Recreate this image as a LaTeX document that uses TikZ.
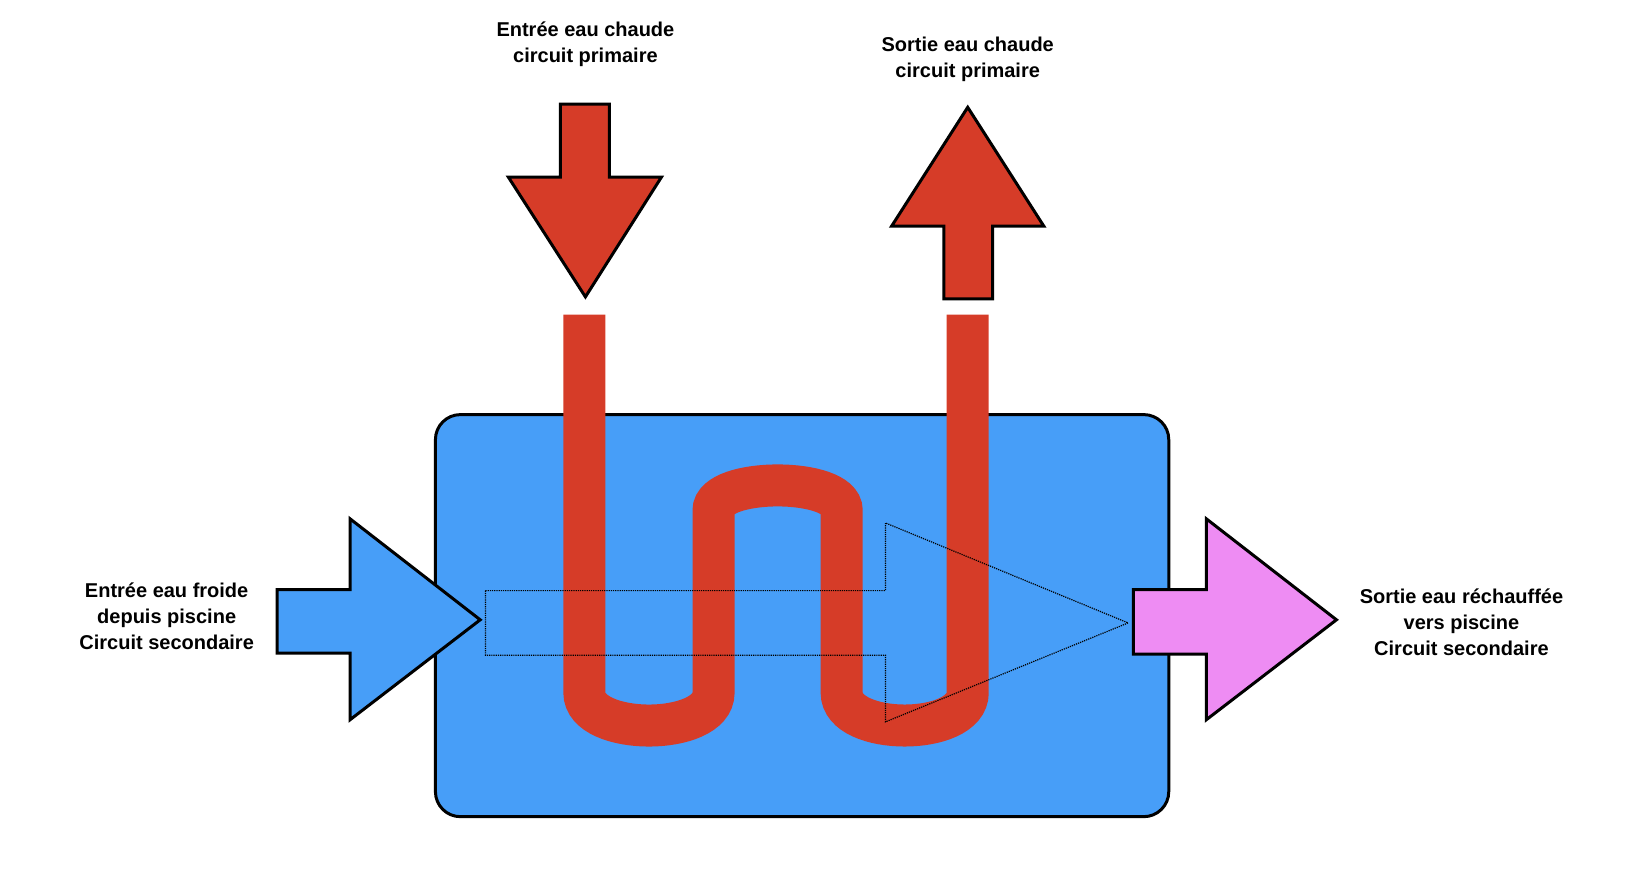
\documentclass[tikz,border=0pt]{standalone}
\usepackage{fontspec}
\setmainfont{Liberation Sans}
\definecolor{boxblue}{HTML}{479EF8}
\definecolor{pipered}{HTML}{D63C28}
\definecolor{pink}{HTML}{EE8CF3}
\begin{document}
\begin{tikzpicture}[x=1.0417pt,y=-1.0417pt,
  outl/.style={draw=black,line width=3pt,line join=miter},
  lab/.style={align=center,font=\fontsize{20}{26}\selectfont\bfseries,inner sep=0pt}]
\useasboundingbox (0,0) rectangle (1560,841);
\draw[outl,fill=boxblue,rounded corners=25pt] (418,398) rectangle (1122,784);
\draw[pipered,line width=42pt] (561,302) -- (561,665) .. controls (561,707) and (685,707) .. (685,665) -- (685,490) .. controls (685,458) and (808,458) .. (808,490) -- (808,665) .. controls (808,707) and (929,707) .. (929,665) -- (929,302);
\draw[densely dotted,line width=1.2pt] (466,567) -- (850,567) -- (850,502) -- (1083,598) -- (850,693) -- (850,629) -- (466,629) -- cycle;
\draw[outl,fill=boxblue] (266,566) -- (336,566) -- (336,498) -- (461,595) -- (336,691) -- (336,627) -- (266,627) -- cycle;
\draw[outl,fill=pink] (1088,566) -- (1158,566) -- (1158,498) -- (1283,595) -- (1158,691) -- (1158,628) -- (1088,628) -- cycle;
\draw[outl,fill=pipered] (538,100) -- (585,100) -- (585,170) -- (635,170) -- (562,285) -- (488,170) -- (538,170) -- cycle;
\draw[outl,fill=pipered] (929,103) -- (1002,217) -- (953,217) -- (953,287) -- (906,287) -- (906,217) -- (856,217) -- cycle;
\node[lab] (t1) at (562,42) {Entrée eau chaude\\circuit primaire};
\node[lab] (t2) at (929,57) {Sortie eau chaude\\circuit primaire};
\node[lab] (t3) at (160,592) {Entrée eau froide\\depuis piscine\\Circuit secondaire};
\node[lab] (t4) at (1403,597) {Sortie eau réchauffée\\vers piscine\\Circuit secondaire};
\end{tikzpicture}
\end{document}
